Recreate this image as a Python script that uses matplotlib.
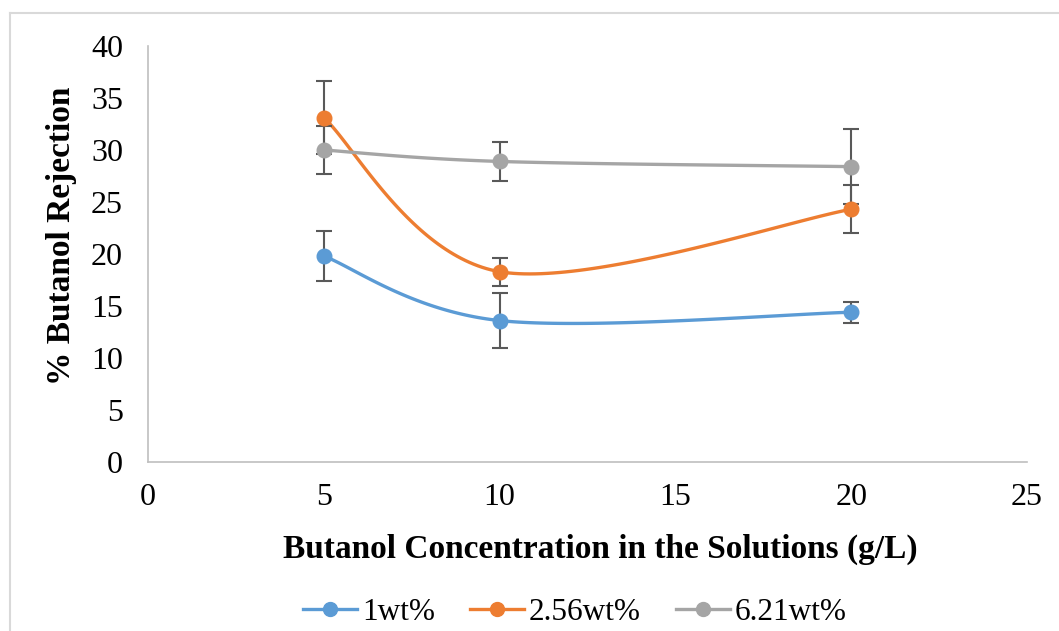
import numpy as np
import matplotlib.pyplot as plt
from matplotlib.lines import Line2D

plt.rcParams['font.family'] = ['Liberation Serif', 'DejaVu Serif']

# butanol concentration (g/L) and rejection (%) for each loading
conc = [5, 10, 20]
rej_1 = [19.8, 13.6, 14.4]
err_1 = [2.4, 2.65, 1.0]
rej_256 = [33.1, 18.3, 24.3]
err_256 = [3.5, 1.35, 2.3]
rej_621 = [30.0, 28.9, 28.4]
err_621 = [2.3, 1.85, 3.6]

labels = ['1wt%', '2.56wt%', '6.21wt%']
colors = ['#5B9BD5', '#ED7D31', '#A5A5A5']


def smooth(x, y, n=60):
    # bezier smoothing between points, like the spreadsheet "smoothed line"
    x = np.asarray(x, float)
    y = np.asarray(y, float)
    p = np.column_stack([x, y])
    out = []
    for i in range(len(p) - 1):
        p0 = p[max(i - 1, 0)]
        p1 = p[i]
        p2 = p[i + 1]
        p3 = p[min(i + 2, len(p) - 1)]
        c1 = p1 + (p2 - p0) / 6
        c2 = p2 - (p3 - p1) / 6
        t = np.linspace(0, 1, n)[:, None]
        seg = ((1 - t) ** 3) * p1 + 3 * ((1 - t) ** 2) * t * c1 + 3 * (1 - t) * t ** 2 * c2 + t ** 3 * p2
        out.append(seg)
    s = np.vstack(out)
    return s[:, 0], s[:, 1]


W, H = 1059, 631
fig = plt.figure(figsize=(W / 100, H / 100), dpi=100)
ax = fig.add_axes([148 / W, 1 - 462 / H, (1027 - 148) / W, (462 - 46) / H])

series = [(rej_1, err_1), (rej_256, err_256), (rej_621, err_621)]
for (vals, errs), col in zip(series, colors):
    sx, sy = smooth(conc, vals)
    ax.plot(sx, sy, color=col, lw=2.4, zorder=3, solid_capstyle='round')
for (vals, errs), col in zip(series, colors):
    ax.errorbar(conc, vals, yerr=errs, fmt='none', ecolor='#595959', elinewidth=1.5,
                capsize=6, capthick=1.5, zorder=4)
for (vals, errs), col in zip(series, colors):
    ax.plot(conc, vals, 'o', color=col, ms=10.5, zorder=5)

ax.set_xlim(0, 25)
ax.set_ylim(0, 40)
ax.set_xticks(range(0, 26, 5))
ax.set_yticks(range(0, 41, 5))
ax.tick_params(length=0, labelsize=23)
ax.tick_params(axis='x', pad=15)
ax.tick_params(axis='y', pad=18)
for side in ['top', 'right']:
    ax.spines[side].set_visible(False)
for side in ['left', 'bottom']:
    ax.spines[side].set_color('#BFBFBF')
    ax.spines[side].set_linewidth(1.2)

# axis titles
fig.text(600 / W, 1 - 549 / H, 'Butanol Concentration in the Solutions (g/L)', fontsize=24,
         fontweight='bold', ha='center', va='center')
fig.text(62 / W, 1 - 236 / H, '% Butanol Rejection', fontsize=24, fontweight='bold',
         rotation=90, ha='center', va='center')

handles = [Line2D([0], [0], color=c, lw=2.4, marker='o', ms=10) for c in colors]
fig.legend(handles, labels, loc='center', bbox_to_anchor=(575 / W, 1 - 612 / H), ncol=3,
           frameon=False, fontsize=22.5, handlelength=1.73, handletextpad=0.16, columnspacing=1.12)

# outer chart border
fig.add_artist(plt.Line2D([10 / W, 1], [1 - 13 / H, 1 - 13 / H], color='#D9D9D9', lw=1.5))
fig.add_artist(plt.Line2D([10 / W, 10 / W], [0, 1 - 13 / H], color='#D9D9D9', lw=1.5))

fig.savefig('out.png', dpi=100)
